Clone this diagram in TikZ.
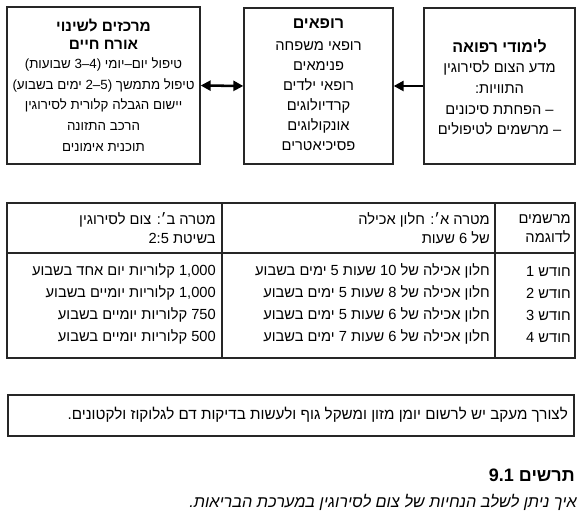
\documentclass[tikz,border=0pt]{standalone}
\usepackage{fontspec}
\setmainfont[Script=Hebrew]{Liberation Sans}
\usetikzlibrary{arrows.meta}
\TeXXeTstate=1
\newcommand{\heb}[1]{\beginR #1\endR}
\begin{document}
\begin{tikzpicture}[x=0.75pt,y=-0.75pt,
  box/.style={draw=black!85, line width=1pt, inner sep=0pt},
  rule/.style={draw=black!85, line width=1pt},
  body/.style={font=\fontsize{11}{15.5}\selectfont, align=center, inner sep=0pt},
  ttl/.style={font=\fontsize{12}{13.5}\selectfont\bfseries, align=center, inner sep=0pt},
  cell/.style={font=\fontsize{11}{14.25}\selectfont, align=right, anchor=east, inner sep=0pt},
  arr/.style={line width=1.9pt, >={Triangle[length=7.5pt,width=7.5pt]}},
]
\useasboundingbox (0,0) rectangle (586,523);
\fill[white] (0,0) rectangle (586,523);

% top boxes
\node[box, minimum width=144.75pt, minimum height=117.75pt] (life) at (103.5,85.5) {};
\node[box, minimum width=111.75pt, minimum height=117pt] (doc) at (318.5,86) {};
\node[box, minimum width=113.25pt, minimum height=117pt] (study) at (499.5,86) {};

\node[ttl, font=\fontsize{11.5}{13.5}\selectfont\bfseries] (lifeT) at (103.5,34) {\heb{מרכזים לשינוי}\\\heb{אורח חיים}};
\node[body, font=\fontsize{10}{15.5}\selectfont] (lifeB) at (103.5,104.5) {\heb{טיפול יום–יומי (4–3 שבועות)}\\
  \heb{טיפול מתמשך (5–2 ימים בשבוע)}\\
  \heb{יישום הגבלה קלורית לסירוגין}\\
  \heb{הרכב התזונה}\\
  \heb{תוכנית אימונים}};

\node[ttl] (docT) at (318.5,24) {\heb{רופאים}};
\node[body, font=\fontsize{11}{15}\selectfont] (docB) at (318.5,96) {\heb{רופאי משפחה}\\
  \heb{פנימאים}\\
  \heb{רופאי ילדים}\\
  \heb{קרדיולוגים}\\
  \heb{אונקולוגים}\\
  \heb{פסיכיאטרים}};

\node[ttl] (studyT) at (499.5,46) {\heb{לימודי רפואה}};
\node[body] (studyB) at (499.5,98) {\heb{מדע הצום לסירוגין}\\
  \heb{התוויות:}\\
  \heb{– הפחתת סיכונים}\\
  \heb{– מרשמים לטיפולים}};

\draw[arr, <->] (life.east) -- (doc.west);
\draw[arr, ->] (study.west) -- (doc.east);

% table
\node[box, minimum width=426pt, minimum height=116.25pt] (tbl) at (291,280.5) {};
\draw[rule] (7,253) -- (575,253);
\draw[rule] (222,203) -- (222,358);
\draw[rule] (495,203) -- (495,358);

\node[cell] (h3) at (571,228.5) {\heb{מרשמים}\\\heb{לדוגמה}};
\node[cell] (h2) at (490,228.5) {\heb{מטרה א׳: חלון אכילה}\\\heb{של 6 שעות}};
\node[cell] (h1) at (216,228.5) {\heb{מטרה ב׳: צום לסירוגין}\\\heb{בשיטת 2:5}};

\node[cell] (m1) at (571,271) {\heb{חודש 1}};
\node[cell] (m2) at (571,293) {\heb{חודש 2}};
\node[cell] (m3) at (571,315) {\heb{חודש 3}};
\node[cell] (m4) at (571,337) {\heb{חודש 4}};

\node[cell] (a1) at (490,271) {\heb{חלון אכילה של 10 שעות 5 ימים בשבוע}};
\node[cell] (a2) at (490,293) {\heb{חלון אכילה של 8 שעות 5 ימים בשבוע}};
\node[cell] (a3) at (490,315) {\heb{חלון אכילה של 6 שעות 5 ימים בשבוע}};
\node[cell] (a4) at (490,337) {\heb{חלון אכילה של 6 שעות 7 ימים בשבוע}};

\node[cell] (b1) at (216,271) {\heb{1,000 קלוריות יום אחד בשבוע}};
\node[cell] (b2) at (216,293) {\heb{1,000 קלוריות יומיים בשבוע}};
\node[cell] (b3) at (216,315) {\heb{750 קלוריות יומיים בשבוע}};
\node[cell] (b4) at (216,337) {\heb{500 קלוריות יומיים בשבוע}};

% note box
\node[box, minimum width=424.5pt, minimum height=30.75pt] (note) at (291,415.5) {};
\node[cell, font=\fontsize{11.4}{14}\selectfont] (noteT) at (568,415) {\heb{לצורך מעקב יש לרשום יומן מזון ומשקל גוף ולעשות בדיקות דם לגלוקוז ולקטונים.}};

% caption
\node[font=\fontsize{13.5}{16}\selectfont\bfseries, anchor=east, inner sep=0pt] (cap) at (575,475) {\heb{תרשים 9.1}};
\node[font=\fontsize{12.2}{14}\selectfont\itshape, anchor=east, inner sep=0pt] (capT) at (577,502) {\heb{איך ניתן לשלב הנחיות של צום לסירוגין במערכת הבריאות.}};
\end{tikzpicture}
\end{document}
